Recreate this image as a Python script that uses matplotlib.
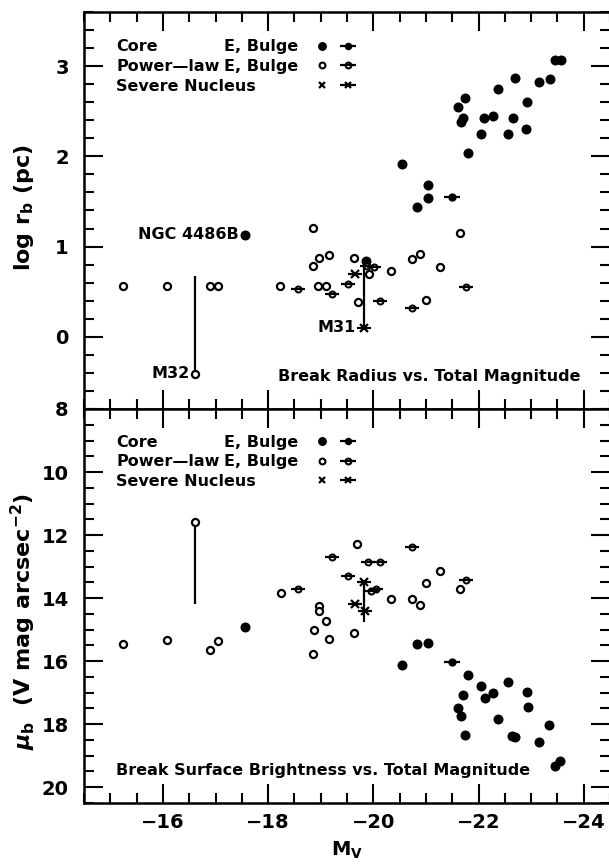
import matplotlib
matplotlib.use("Agg")
import matplotlib.pyplot as plt
from matplotlib.ticker import MultipleLocator

plt.rcParams['font.family'] = ['DejaVu Sans']
plt.rcParams['font.weight'] = 'bold'
plt.rcParams['axes.labelweight'] = 'bold'
plt.rcParams['mathtext.fontset'] = 'custom'
plt.rcParams['mathtext.rm'] = 'DejaVu Sans:bold'
plt.rcParams['mathtext.it'] = 'DejaVu Sans:bold:italic'
plt.rcParams['mathtext.bf'] = 'DejaVu Sans:bold'
plt.rcParams['axes.unicode_minus'] = True

# ---------------- data: top panel (log r_b) ----------------
core_e_mag_r = [-23.46, -23.56, -22.69, -23.15, -23.36, -22.37, -22.93, -21.75, -21.61,
                -21.70, -21.66, -22.11, -22.27, -22.65, -22.04, -22.56, -22.91, -21.80,
                -20.54, -21.04, -21.04, -20.83, -17.57, -19.87]
core_e_logr = [3.07, 3.07, 2.87, 2.82, 2.86, 2.75, 2.60, 2.65, 2.55,
               2.43, 2.38, 2.42, 2.45, 2.43, 2.25, 2.25, 2.30, 2.04,
               1.92, 1.68, 1.54, 1.44, 1.13, 0.84]
core_b_mag_r = [-21.50]
core_b_logr = [1.55]
pl_e_mag_r = [-15.24, -16.08, -16.89, -17.05, -16.61, -18.22, -18.85, -18.97, -19.15,
              -18.86, -18.95, -19.10, -19.63, -19.70, -19.92, -20.34, -20.73, -20.89,
              -21.26, -21.64, -21.01]
pl_e_logr = [0.566, 0.566, 0.566, 0.566, -0.41, 0.566, 1.21, 0.87, 0.91,
             0.78, 0.566, 0.566, 0.87, 0.385, 0.70, 0.73, 0.86, 0.92,
             0.77, 1.15, 0.41]
pl_b_mag_r = [-18.57, -19.22, -19.52, -19.88, -20.02, -20.12, -20.74, -21.77]
pl_b_logr = [0.53, 0.48, 0.59, 0.79, 0.77, 0.40, 0.315, 0.555]
sev_b_mag_r = [-19.66, -19.83]
sev_b_logr = [0.70, 0.10]
m32_r_range = [-0.41, 0.67]
m31_r_range = [0.10, 0.80]

# ---------------- data: bottom panel (mu_b) ----------------
core_e_mag_mu = [-17.57, -20.83, -21.04, -20.54, -21.80, -22.05, -22.56, -21.70, -22.13,
                 -22.28, -22.92, -22.94, -21.61, -21.67, -22.37, -23.34, -21.75, -22.63,
                 -22.70, -23.15, -23.46, -23.54]
core_e_mu = [14.93, 15.47, 15.42, 16.11, 16.43, 16.78, 16.67, 17.07, 17.17,
             17.02, 16.99, 17.47, 17.50, 17.74, 17.85, 18.02, 18.35, 18.37,
             18.40, 18.56, 19.32, 19.18]
core_b_mag_mu = [-21.50]
core_b_mu = [16.03]
pl_e_mag_mu = [-16.61, -18.24, -18.96, -18.97, -19.69, -21.26, -21.01, -21.64, -20.34,
               -20.73, -20.89, -19.10, -18.87, -19.63, -15.24, -16.08, -16.90, -17.05,
               -19.15, -18.86]
pl_e_mu = [11.59, 13.85, 14.25, 14.40, 12.27, 13.14, 13.53, 13.71, 14.04,
           14.03, 14.22, 14.72, 15.01, 15.12, 15.47, 15.32, 15.64, 15.37,
           15.31, 15.78]
pl_b_mag_mu = [-18.57, -19.22, -20.74, -19.90, -20.13, -19.52, -19.95, -20.05, -21.77]
pl_b_mu = [13.70, 12.69, 12.39, 12.85, 12.85, 13.30, 13.77, 13.72, 13.44]
sev_b_mag_mu = [-19.83, -19.66, -19.85]
sev_b_mu = [13.48, 14.18, 14.42]
m32_mu_range = [11.59, 14.20]
m31_mu_range = [13.48, 14.75]

legend_rows = ["Core", "Power\u2014law", "Severe Nucleus"]
panel_titles = ["Break Radius vs. Total Magnitude",
                "Break Surface Brightness vs. Total Magnitude"]

W, H = 609, 864
fig = plt.figure(figsize=(W / 100, H / 100), dpi=100)

def px_ax(x0, y0, x1, y1):
    return fig.add_axes([x0 / W, 1 - y1 / H, (x1 - x0) / W, (y1 - y0) / H])

ax1 = px_ax(84, 12, 610, 409)
ax2 = px_ax(84, 409, 610, 803)

TXT = 11.5

def style(ax, ymaj, ymin):
    ax.set_xlim(-14.5, -24.5)
    ax.xaxis.set_major_locator(MultipleLocator(2))
    ax.xaxis.set_minor_locator(MultipleLocator(0.5))
    ax.yaxis.set_major_locator(MultipleLocator(ymaj))
    ax.yaxis.set_minor_locator(MultipleLocator(ymin))
    ax.tick_params(which='both', direction='in', top=True, right=True,
                   width=1.5, color='black')
    ax.tick_params(which='major', length=13.5)
    ax.tick_params(which='minor', length=7.2)
    ax.tick_params(axis='y', labelsize=14, pad=11)
    ax.tick_params(axis='x', labelsize=14, pad=7)
    for s in ax.spines.values():
        s.set_linewidth(1.8)

def plot_sets(ax, ce, cb, pe, pb, sb):
    ax.plot(ce[0], ce[1], 'o', ms=7.2, color='black', mec='black', mew=0, ls='none')
    ax.plot(cb[0], cb[1], 'o', ms=6.0, color='black', mew=0, ls='none')
    ax.plot(cb[0], cb[1], '_', ms=12, color='black', mew=1.6, ls='none')
    ax.plot(pe[0], pe[1], 'o', ms=5.1, mfc='white', mec='black', mew=1.6, ls='none')
    ax.plot(pb[0], pb[1], 'o', ms=4.3, mfc='white', mec='black', mew=1.45, ls='none')
    ax.plot(pb[0], pb[1], '_', ms=10, color='black', mew=1.6, ls='none')
    ax.plot(sb[0], sb[1], 'x', ms=5.2, color='black', mew=1.6, ls='none')
    ax.plot(sb[0], sb[1], '_', ms=9.5, color='black', mew=1.6, ls='none')

# top panel
style(ax1, 1, 0.2)
ax1.set_ylim(-0.8, 3.6)
ax1.tick_params(axis='x', labelbottom=False)
ax1.vlines(pl_e_mag_r[4], m32_r_range[0], m32_r_range[1], color='black', lw=1.6)
ax1.vlines(sev_b_mag_r[1], m31_r_range[0], m31_r_range[1], color='black', lw=1.6)
plot_sets(ax1, (core_e_mag_r, core_e_logr), (core_b_mag_r, core_b_logr),
          (pl_e_mag_r, pl_e_logr), (pl_b_mag_r, pl_b_logr), (sev_b_mag_r, sev_b_logr))
ax1.set_yticks([0, 1, 2, 3])
ax1.set_yticklabels(['0', '1', '2', '3'])
ax1.annotate("NGC 4486B", (core_e_mag_r[22], core_e_logr[22]), xytext=(-5, 0),
             textcoords='offset points', ha='right', va='center', fontsize=TXT)
ax1.annotate("M32", (pl_e_mag_r[4], pl_e_logr[4]), xytext=(-4, 0),
             textcoords='offset points', ha='right', va='center', fontsize=TXT)
ax1.annotate("M31", (sev_b_mag_r[1], sev_b_logr[1]), xytext=(-6, 0),
             textcoords='offset points', ha='right', va='center', fontsize=TXT)

# bottom panel
style(ax2, 2, 0.5)
ax2.set_ylim(20.5, 8)
ax2.vlines(pl_e_mag_mu[0], m32_mu_range[0], m32_mu_range[1], color='black', lw=1.6)
ax2.vlines(sev_b_mag_mu[0], m31_mu_range[0], m31_mu_range[1], color='black', lw=1.6)
plot_sets(ax2, (core_e_mag_mu, core_e_mu), (core_b_mag_mu, core_b_mu),
          (pl_e_mag_mu, pl_e_mu), (pl_b_mag_mu, pl_b_mu), (sev_b_mag_mu, sev_b_mu))
ax2.set_xticks([-16, -18, -20, -22, -24])
ax2.set_xticklabels(['\u221216', '\u221218', '\u221220', '\u221222', '\u221224'])
ax2.set_xlabel(r"M$_{\rm V}$", fontsize=14, labelpad=6)

def ftxt(x, y, s, size=TXT, **kw):
    fig.text(x / W, 1 - y / H, s, fontsize=size, **kw)

# axis labels placed in figure pixels
ftxt(24, 208, r"log r$_{\rm b}$ (pc)", size=16, rotation=90, ha='center', va='center')
ftxt(23, 622, r"$\mu_{\rm b}$  (V mag arcsec$^{-2}$)", size=16, rotation=90,
     ha='center', va='center')

# legends (figure pixel coords)
for base, ax in ((51.4, ax1), (446.8, ax2)):
    ys = [base, base + 19.6, base + 39.2]
    ftxt(116, ys[0], legend_rows[0], va='baseline')
    ftxt(116, ys[1], legend_rows[1], va='baseline')
    ftxt(116, ys[2], legend_rows[2], va='baseline')
    ftxt(223.5, ys[0], "E, Bulge", va='baseline')
    ftxt(223.5, ys[1], "E, Bulge", va='baseline')
    cy = [1 - (y - 5.8) / H for y in ys]
    c1, c2 = 321.7 / W, 348 / W
    kw = dict(transform=fig.transFigure, ls='none', clip_on=False)
    ax.plot([c1], [cy[0]], 'o', ms=6.4, color='black', mew=0, **kw)
    ax.plot([c2], [cy[0]], 'o', ms=5.4, color='black', mew=0, **kw)
    ax.plot([c2], [cy[0]], '_', ms=12, color='black', mew=1.6, **kw)
    ax.plot([c1], [cy[1]], 'o', ms=4.2, mfc='white', mec='black', mew=1.5, **kw)
    ax.plot([c2], [cy[1]], 'o', ms=4.2, mfc='white', mec='black', mew=1.5, **kw)
    ax.plot([c2], [cy[1]], '_', ms=12, color='black', mew=1.6, **kw)
    ax.plot([c1], [cy[2]], 'x', ms=4.6, color='black', mew=1.6, **kw)
    ax.plot([c2], [cy[2]], 'x', ms=5.0, color='black', mew=1.6, **kw)
    ax.plot([c2], [cy[2]], '_', ms=12, color='black', mew=1.6, **kw)

ftxt(580, 381, panel_titles[0], ha='right', va='baseline')
ftxt(116.5, 775.5, panel_titles[1], ha='left', va='baseline')

fig.savefig("out.png", dpi=100)
